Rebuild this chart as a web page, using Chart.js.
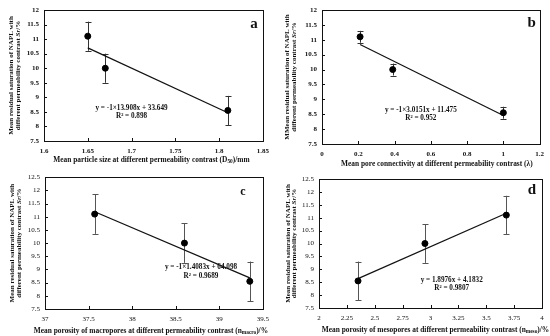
<!DOCTYPE html>
<html>
<head>
<meta charset="utf-8">
<script src="https://cdn.jsdelivr.net/npm/chart.js@4.4.0/dist/chart.umd.min.js"></script>
<style>
    body { margin: 0; background: #fff; }
    #wrap { position: relative; width: 550px; height: 336px; }
    .panel { position: absolute; width: 275px; height: 168px; }
</style>
</head>
<body>
<div id="wrap">
    <div class="panel" style="left:0;top:0"><canvas id="chartA" width="275" height="168"></canvas></div>
    <div class="panel" style="left:275px;top:0"><canvas id="chartB" width="275" height="168"></canvas></div>
    <div class="panel" style="left:0;top:168px"><canvas id="chartC" width="275" height="168"></canvas></div>
    <div class="panel" style="left:275px;top:168px"><canvas id="chartD" width="275" height="168"></canvas></div>
</div>
<script>
// residual saturation (same three experiments in every panel)
const residualSat = [11.1, 10.0, 8.55];

// panel a - particle size
const particleSize = [1.65, 1.67, 1.81];
const errA = [0.5, 0.5, 0.5];
const trendXA = [1.65, 1.81];
const trendYA = [10.70, 8.47];
const xTicksA = [1.6, 1.65, 1.7, 1.75, 1.8, 1.85];

// panel b - pore connectivity
const poreConnectivity = [0.21, 0.39, 1.0];
const errB = [0.2, 0.2, 0.2];
const trendXB = [0.21, 1.0];
const trendYB = [10.84, 8.46];
const xTicksB = [0, 0.2, 0.4, 0.6, 0.8, 1, 1.2];

// panel c - macropore porosity
const macroPorosity = [37.57, 38.6, 39.35];
const errC = [0.75, 0.75, 0.75];
const trendXC = [37.57, 39.35];
const trendYC = [11.19, 8.68];
const xTicksC = [37, 37.5, 38, 38.5, 39, 39.5];

// panel d - mesopore porosity
const mesoPorosity = [3.68, 2.95, 2.35];
const errD = [0.75, 0.75, 0.75];
const trendXD = [2.35, 3.68];
const trendYD = [8.64, 11.17];
const xTicksD = [2, 2.25, 2.5, 2.75, 3, 3.25, 3.5, 3.75, 4];

const yTicksAB = [7.5, 8, 8.5, 9, 9.5, 10, 10.5, 11, 11.5, 12];
const yTicksCD = [7.5, 8, 8.5, 9, 9.5, 10, 10.5, 11, 11.5, 12, 12.5];

const SERIF = '"Liberation Serif", "Times New Roman", serif';

function drawRich(ctx, parts, cx, cy, size, weight) {
    const fontOf = p => (p.italic ? 'italic ' : '') + weight + ' ' + (p.sub ? size * 0.72 : size) + 'px ' + SERIF;
    const widths = parts.map(p => { ctx.font = fontOf(p); return ctx.measureText(p.t).width; });
    let x = cx - widths.reduce((a, b) => a + b, 0) / 2;
    ctx.textAlign = 'left';
    ctx.textBaseline = 'middle';
    parts.forEach((p, i) => {
        ctx.font = fontOf(p);
        ctx.fillText(p.t, x, cy + (p.sub ? size * 0.25 : 0));
        x += widths[i];
    });
}

const panelDecor = {
    id: 'panelDecor',
    beforeDatasetsDraw(chart, args, opts) {
        const ctx = chart.ctx;
        const xs = chart.scales.x, ys = chart.scales.y;
        const pts = chart.data.datasets[0].data;
        ctx.save();
        ctx.strokeStyle = opts.errColor;
        ctx.lineWidth = 1;
        pts.forEach((p, i) => {
            const px = Math.round(xs.getPixelForValue(p.x)) + 0.5;
            const top = ys.getPixelForValue(p.y + opts.err[i]);
            const bot = ys.getPixelForValue(p.y - opts.err[i]);
            ctx.beginPath();
            ctx.moveTo(px, top); ctx.lineTo(px, bot);
            ctx.moveTo(px - 3, Math.round(top) + 0.5); ctx.lineTo(px + 3, Math.round(top) + 0.5);
            ctx.moveTo(px - 3, Math.round(bot) + 0.5); ctx.lineTo(px + 3, Math.round(bot) + 0.5);
            ctx.stroke();
        });
        ctx.restore();
    },
    afterDraw(chart, args, opts) {
        const ctx = chart.ctx;
        const a = chart.chartArea;
        const xs = chart.scales.x, ys = chart.scales.y;
        ctx.save();
        // frame
        ctx.strokeStyle = '#111';
        ctx.lineWidth = 1;
        ctx.strokeRect(Math.round(a.left) + 0.5, Math.round(a.top) + 0.5,
            Math.round(a.right - a.left), Math.round(a.bottom - a.top));
        // inward tick marks
        ctx.beginPath();
        xs.ticks.forEach(t => {
            const px = Math.round(xs.getPixelForValue(t.value)) + 0.5;
            ctx.moveTo(px, a.bottom); ctx.lineTo(px, a.bottom - 3);
        });
        ys.ticks.forEach(t => {
            const py = Math.round(ys.getPixelForValue(t.value)) + 0.5;
            ctx.moveTo(a.left, py); ctx.lineTo(a.left + 3, py);
        });
        ctx.stroke();

        ctx.fillStyle = '#111';
        // y title, rotated, two lines
        const cy = (a.top + a.bottom) / 2;
        opts.yTitle.forEach((line, i) => {
            ctx.save();
            ctx.translate(opts.yTitleX[i], cy);
            ctx.rotate(-Math.PI / 2);
            drawRich(ctx, line, 0, 0, 7, 'bold');
            ctx.restore();
        });
        // x title
        drawRich(ctx, opts.xTitle, (a.left + a.right) / 2 + opts.xTitleDx, opts.xTitleY, 7.4, 'bold');

        // fit equation
        const ex = xs.getPixelForValue(opts.eqAt[0]);
        const ey = ys.getPixelForValue(opts.eqAt[1]);
        drawRich(ctx, [{ t: opts.equation[0] }], ex, ey, 7.2, 'bold');
        drawRich(ctx, [{ t: opts.equation[1] }], ex, ey + 8.5, 7.2, 'bold');

        // panel letter
        ctx.font = 'bold ' + opts.letterSize + 'px ' + SERIF;
        ctx.textAlign = 'center';
        ctx.textBaseline = 'middle';
        ctx.fillText(opts.letter, a.right - opts.letterDx, a.top + opts.letterDy);
        ctx.restore();
    }
};

const yTitleLines = [
    [{ t: 'Mean residual saturation of NAPL with' }],
    [{ t: 'different permeability contrast ' }, { t: 'Sr', italic: true }, { t: '/%' }]
];

function makePanel(id, cfg) {
    const points = cfg.xs.map((x, i) => ({ x: x, y: residualSat[i] }));
    const trend = cfg.trendX.map((x, i) => ({ x: x, y: cfg.trendY[i] }));
    const tickFont = { family: SERIF, size: 7, weight: cfg.tickWeight };
    new Chart(document.getElementById(id).getContext('2d'), {
        type: 'scatter',
        data: {
            datasets: [{
                data: points,
                backgroundColor: '#000',
                borderColor: '#000',
                borderWidth: 1,
                pointRadius: 3,
                pointHoverRadius: 3
            }, {
                type: 'line',
                data: trend,
                borderColor: '#111',
                borderWidth: 1.2,
                pointRadius: 0,
                fill: false
            }]
        },
        options: {
            responsive: false,
            animation: false,
            events: [],
            layout: {
                padding: { left: 0, top: cfg.area.top, right: 275 - cfg.area.right, bottom: 0 }
            },
            scales: {
                x: {
                    type: 'linear',
                    min: cfg.xTicks[0],
                    max: cfg.xTicks[cfg.xTicks.length - 1],
                    afterBuildTicks: s => { s.ticks = cfg.xTicks.map(v => ({ value: v })); },
                    afterFit: s => { s.height = 168 - cfg.area.bottom; },
                    grid: { display: false, drawTicks: false },
                    border: { display: false },
                    ticks: { font: tickFont, color: '#111', padding: 6, maxRotation: 0, autoSkip: false,
                        callback: v => String(v) }
                },
                y: {
                    type: 'linear',
                    min: cfg.yTicks[0],
                    max: cfg.yTicks[cfg.yTicks.length - 1],
                    afterBuildTicks: s => { s.ticks = cfg.yTicks.map(v => ({ value: v })); },
                    afterFit: s => { s.width = cfg.area.left; },
                    grid: { display: false, drawTicks: false },
                    border: { display: false },
                    ticks: { font: tickFont, color: '#111', padding: 5, autoSkip: false,
                        callback: v => String(v) }
                }
            },
            plugins: {
                legend: { display: false },
                tooltip: { enabled: false },
                panelDecor: {
                    err: cfg.err,
                    errColor: cfg.errColor,
                    yTitle: yTitleLines.map((l, i) => (i === 0 && cfg.firstWord) ? [{ t: cfg.firstWord }] : l),
                    yTitleX: cfg.yTitleX,
                    xTitle: cfg.xTitle,
                    xTitleY: cfg.xTitleY,
                    xTitleDx: cfg.xTitleDx,
                    equation: cfg.equation,
                    eqAt: cfg.eqAt,
                    letter: cfg.letter,
                    letterSize: cfg.letterSize,
                    letterDx: cfg.letterDx,
                    letterDy: cfg.letterDy
                }
            }
        },
        plugins: [panelDecor]
    });
}

makePanel('chartA', {
    xs: particleSize, err: errA, trendX: trendXA, trendY: trendYA,
    xTicks: xTicksA, yTicks: yTicksAB, tickWeight: 'bold', errColor: '#333',
    area: { left: 44, right: 268, top: 10, bottom: 141 },
    yTitleX: [11, 18],
    xTitle: [{ t: 'Mean particle size at different permeability contrast (D' }, { t: '50', sub: true }, { t: ')/mm' }],
    xTitleY: 160, xTitleDx: -2,
    equation: ['y = -1\u00d713.908x + 33.649', 'R\u00b2 = 0.898'],
    eqAt: [1.70, 8.63],
    letter: 'a', letterSize: 15, letterDx: 9, letterDy: 14
});

makePanel('chartB', {
    xs: poreConnectivity, err: errB, trendX: trendXB, trendY: trendYB,
    xTicks: xTicksB, yTicks: yTicksAB, tickWeight: 'bold', errColor: '#333',
    area: { left: 47, right: 265, top: 10, bottom: 144 },
    yTitleX: [12, 19],
    firstWord: 'MMean residual saturation of NAPL with',
    xTitle: [{ t: 'Mean pore connectivity at different permeability contrast (\u03bb)' }],
    xTitleY: 164, xTitleDx: 6,
    equation: ['y = -1\u00d73.0151x + 11.475', 'R\u00b2 = 0.952'],
    eqAt: [0.545, 8.64],
    letter: 'b', letterSize: 15, letterDx: 8, letterDy: 13
});

makePanel('chartC', {
    xs: macroPorosity, err: errC, trendX: trendXC, trendY: trendYC,
    xTicks: xTicksC, yTicks: yTicksCD, tickWeight: 'normal', errColor: '#555',
    area: { left: 45, right: 268, top: 7, bottom: 141 },
    yTitleX: [12, 19],
    xTitle: [{ t: 'Mean porosity of macropores at different permeability contrast (n' }, { t: 'macro', sub: true }, { t: ')/%' }],
    xTitleY: 163, xTitleDx: -3,
    equation: ['y = -1\u00d71.4083x + 64.098', 'R\u00b2 = 0.9689'],
    eqAt: [38.79, 9.07],
    letter: 'c', letterSize: 12, letterDx: 20, letterDy: 15
});

makePanel('chartD', {
    xs: mesoPorosity, err: errD, trendX: trendXD, trendY: trendYD,
    xTicks: xTicksD, yTicks: yTicksCD, tickWeight: 'normal', errColor: '#555',
    area: { left: 44, right: 267, top: 11, bottom: 140 },
    yTitleX: [13, 19],
    xTitle: [{ t: 'Mean porosity of mesopores at different permeability contrast (n' }, { t: 'meso', sub: true }, { t: ')/%' }],
    xTitleY: 162, xTitleDx: 5,
    equation: ['y = 1.8976x + 4.1832', 'R\u00b2 = 0.9807'],
    eqAt: [3.19, 8.58],
    letter: 'd', letterSize: 15, letterDx: 10, letterDy: 11
});
</script>
</body>
</html>
